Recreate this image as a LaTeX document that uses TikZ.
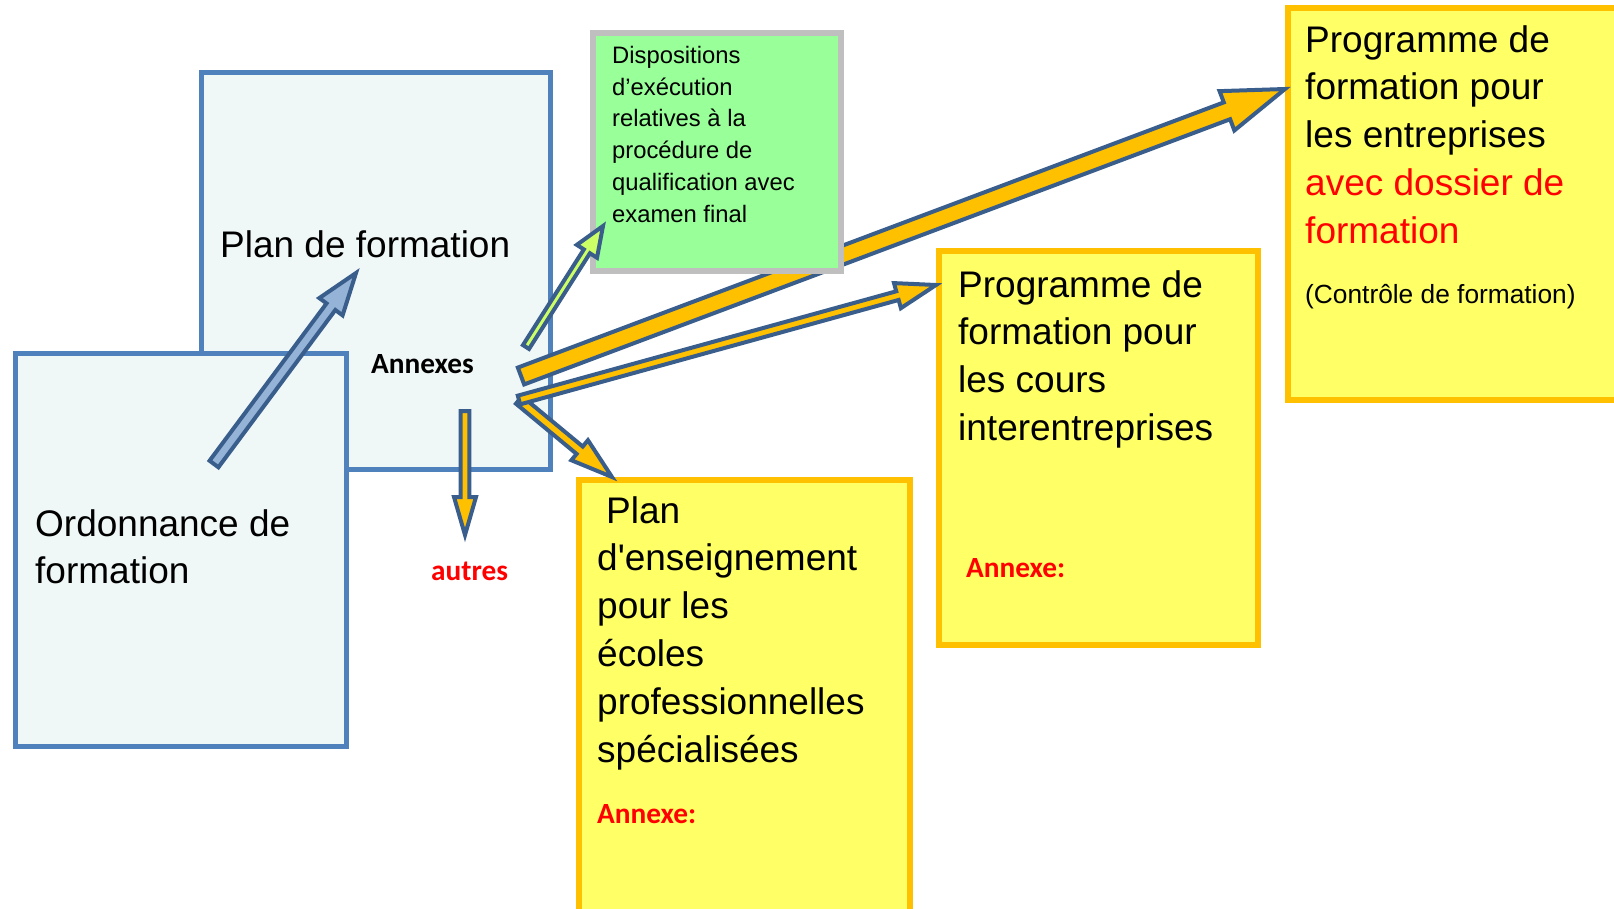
\documentclass[tikz,border=0pt]{standalone}
\usepackage{fontspec}
\setmainfont{Liberation Sans}[Ligatures=TeXOff]
\newfontfamily\cali{Carlito}
\usetikzlibrary{calc}
\definecolor{boxblue}{HTML}{4F81BD}
\definecolor{boxpale}{HTML}{EFF8F7}
\definecolor{ylwfill}{HTML}{FFFF66}
\definecolor{ylwline}{HTML}{FFC000}
\definecolor{grnfill}{HTML}{99FF99}
\definecolor{grnline}{HTML}{BFBFBF}
\definecolor{arrline}{HTML}{3A5E8C}
\definecolor{arrblue}{HTML}{95B3D7}
\definecolor{arrorange}{HTML}{FFC000}
\definecolor{arrlime}{HTML}{CCFF66}
\definecolor{redtxt}{HTML}{FF0000}
\newcommand{\blockarrow}[6]{%
  \coordinate (tmpH) at ($(#3)!#6!(#2)$);
  \path[#1] ($(#2)!#4!90:(#3)$) -- ($(tmpH)!#4!90:(#3)$) -- ($(tmpH)!#5!90:(#3)$)
    -- (#3) -- ($(tmpH)!#5!-90:(#3)$) -- ($(tmpH)!#4!-90:(#3)$) -- ($(#2)!#4!-90:(#3)$) -- cycle;
}
\tikzset{
  bluebox/.style={draw=boxblue, fill=boxpale, line width=5pt, rectangle, inner sep=0pt, anchor=north west},
  ylwbox/.style={draw=ylwline, fill=ylwfill, line width=6pt, rectangle, inner sep=0pt, anchor=north west},
  grnbox/.style={draw=grnline, fill=grnfill, line width=6pt, rectangle, inner sep=0pt, anchor=north west},
  txt/.style={anchor=base west, inner sep=0pt, font=\fontsize{37}{44}\selectfont},
  smalltxt/.style={anchor=base west, inner sep=0pt, font=\fontsize{23.8}{28}\selectfont},
  ctrltxt/.style={anchor=base west, inner sep=0pt, font=\fontsize{26.3}{31}\selectfont},
  boldtxt/.style={anchor=base west, inner sep=0pt, font=\cali\bfseries\fontsize{29.3}{34}\selectfont},
  arrbase/.style={draw=arrline, line width=4pt, line join=miter, miter limit=6},
  arrB/.style={arrbase, fill=arrblue},
  arrO/.style={arrbase, fill=arrorange},
  arrL/.style={arrbase, fill=arrlime},
}
\begin{document}
\begin{tikzpicture}[x=1pt, y=-1pt]
\useasboundingbox (0,0) rectangle (1614,908);
\clip (0,0) rectangle (1614,908);
% boxes
\node[bluebox, minimum width=349pt, minimum height=397pt] (plan) at (199,70) {};
\node[bluebox, minimum width=331pt, minimum height=393pt] (ordo) at (13,351) {};
\node[ylwbox, minimum width=331pt, minimum height=460pt] (ens) at (576,477) {};
\node[ylwbox, minimum width=319pt, minimum height=394pt] (cie) at (936,248) {};
\node[ylwbox, minimum width=360pt, minimum height=392pt] (ent) at (1285,5) {};
% texts
\node[txt] (tplan) at (220,257) {Plan de formation};
\node[boldtxt] (tannexes) at (371,373) {Annexes};
\node[txt] (tordo1) at (35,536) {Ordonnance de};
\node[txt] (tordo2) at (35,583) {formation};
\node[boldtxt, text=redtxt] (tautres) at (431,580) {autres};
\node[txt] (ens1) at (606,523) {Plan};
\node[txt] (ens2) at (597,570.8) {d'enseignement};
\node[txt] (ens3) at (597,618.6) {pour les};
\node[txt] (ens4) at (597,666.4) {écoles};
\node[txt] (ens5) at (597,714.2) {professionnelles};
\node[txt] (ens6) at (597,762) {spécialisées};
\node[boldtxt, text=redtxt] (ensann) at (597,823) {Annexe:};
\node[txt] (cie1) at (958,297) {Programme de};
\node[txt] (cie2) at (958,344.8) {formation pour};
\node[txt] (cie3) at (958,392.6) {les cours};
\node[txt] (cie4) at (958,440.4) {interentreprises};
\node[boldtxt, text=redtxt] (cieann) at (966,577) {Annexe:};
\node[txt] (ent1) at (1305,52) {Programme de};
\node[txt] (ent2) at (1305,99.8) {formation pour};
\node[txt] (ent3) at (1305,147.6) {les entreprises};
\node[txt, text=redtxt] (ent4) at (1305,195.4) {avec dossier de};
\node[txt, text=redtxt] (ent5) at (1305,243.2) {formation};
\node[ctrltxt] (ent6) at (1305,303) {(Contrôle de formation)};
% connectors
\coordinate (bA) at (214,464);
\coordinate (bB) at (356,273);
\blockarrow{arrB}{bA}{bB}{5.5pt}{14.5pt}{42pt}
\coordinate (oA) at (521,376);
\coordinate (oB) at (1285,89);
\blockarrow{arrO}{oA}{oB}{9pt}{21pt}{62pt}
% green box on top of the big arrow
\node[grnbox, minimum width=248pt, minimum height=238pt] (disp) at (590,30) {};
\node[smalltxt] (d1) at (612,63.3) {Dispositions};
\node[smalltxt] (d2) at (612,95.1) {d’exécution};
\node[smalltxt] (d3) at (612,126.9) {relatives à la};
\node[smalltxt] (d4) at (612,158.7) {procédure de};
\node[smalltxt] (d5) at (612,190.5) {qualification avec};
\node[smalltxt] (d6) at (612,222.3) {examen final};
\coordinate (gA) at (526,347);
\coordinate (gB) at (603,226);
\blockarrow{arrL}{gA}{gB}{3.6pt}{12pt}{30pt}
\coordinate (vA) at (519,400);
\coordinate (lB) at (612,477);
\blockarrow{arrO}{vA}{lB}{4.8pt}{13pt}{42pt}
\coordinate (mB) at (936,285);
\blockarrow{arrO}{vA}{mB}{4.5pt}{13pt}{40pt}
\coordinate (dA) at (465,411);
\coordinate (dB) at (465,535);
\blockarrow{arrO}{dA}{dB}{4.3pt}{11pt}{38pt}
\end{tikzpicture}
\end{document}
